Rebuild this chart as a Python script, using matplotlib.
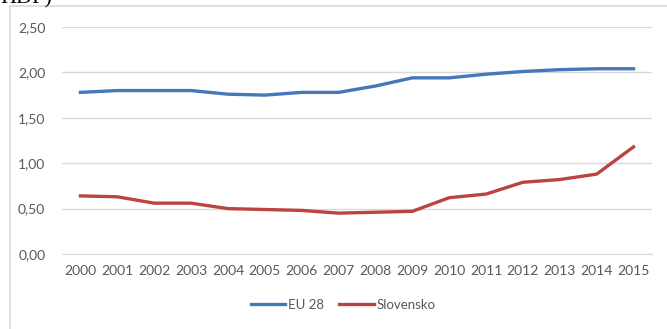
import matplotlib
matplotlib.use("Agg")
import matplotlib.pyplot as plt
from matplotlib.patches import Rectangle
from matplotlib.ticker import FuncFormatter


# data
years = list(range(2000, 2016))
eu28 = [1.78, 1.80, 1.80, 1.80, 1.76, 1.75, 1.78, 1.78, 1.85, 1.94, 1.94, 1.98, 2.01, 2.03, 2.04, 2.04]
slovensko = [0.64, 0.63, 0.56, 0.56, 0.50, 0.49, 0.48, 0.45, 0.46, 0.47, 0.62, 0.66, 0.79, 0.82, 0.88, 1.18]
y_ticks = [0.0, 0.5, 1.0, 1.5, 2.0, 2.5]

plt.rcParams["font.family"] = ["Lato", "DejaVu Sans"]

fig = plt.figure(figsize=(6.67, 3.29), dpi=100)
W, H = 667, 329

# outer chart frame (runs off the right and bottom edge)
fig.patches.append(Rectangle((10 / W, -0.05), 1.0, 1 - 6 / H + 0.05,
                             transform=fig.transFigure, fill=False,
                             edgecolor="#d9d9d9", linewidth=1.2))

# caption text above the chart, cut off by the top edge like in the source
fig.text(0.0, 1 - 3 / H, "HDP)", fontsize=16, family="Liberation Serif",
         va="baseline", ha="left", color="black")

ax = fig.add_axes([62 / W, 1 - 254 / H, (652 - 62) / W, (254 - 27) / H])

ax.plot(years, eu28, color="#4677b8", linewidth=2.4, label="EU 28")
ax.plot(years, slovensko, color="#bb4441", linewidth=2.4, label="Slovensko")

ax.set_xlim(1999.5, 2015.5)
ax.set_ylim(0, 2.5)
ax.set_xticks(years)
ax.set_yticks(y_ticks)
ax.yaxis.set_major_formatter(FuncFormatter(lambda v, p: f"{v:.2f}".replace(".", ",")))

ax.grid(axis="y", color="#d9d9d9", linewidth=1)
ax.set_axisbelow(True)
for s in ["top", "right", "left"]:
    ax.spines[s].set_visible(False)
ax.spines["bottom"].set_color("#d9d9d9")
ax.tick_params(axis="both", length=0, colors="#595959", labelsize=10)
ax.tick_params(axis="x", pad=8)
ax.tick_params(axis="y", pad=12)

fig.legend(loc="center", bbox_to_anchor=(343 / W, 1 - 305 / H), ncol=2,
           frameon=False, fontsize=9.5, handlelength=2.6, handletextpad=0.2,
           columnspacing=1.2, labelcolor="#595959")

fig.savefig("out.png", dpi=100)
